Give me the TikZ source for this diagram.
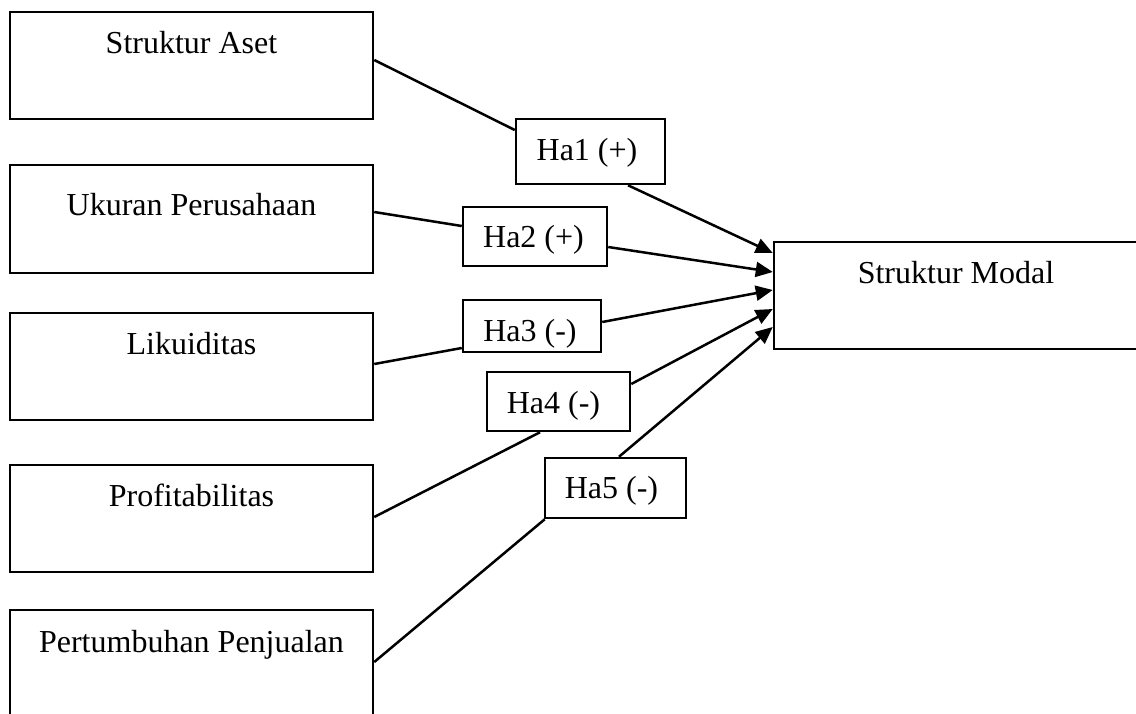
\documentclass[tikz,border=0pt]{standalone}
\usepackage{fontspec}
\setmainfont{Liberation Serif}
\usetikzlibrary{arrows.meta}
\tikzset{
  bigbox/.style={draw, line width=2.5pt, minimum width=363pt, minimum height=107pt, inner sep=0pt},
  habox/.style={draw, line width=2.5pt, inner sep=0pt, fill=white},
  txt/.style={anchor=base, inner sep=0pt, font=\fontsize{32}{38}\selectfont},
  conn/.style={line width=2.5pt},
  arr/.style={line width=2.5pt, -{Triangle[length=17pt,width=15pt]}}
}
\begin{document}
\begin{tikzpicture}[x=1pt,y=-1pt]
\useasboundingbox (0,0) rectangle (1136,713);
% left boxes
\node[bigbox] (b1) at (191.5,65.5) {};
\node[txt] (t1) at (191.5,53) {Struktur Aset};
\node[bigbox, minimum height=108pt] (b2) at (191.5,219) {};
\node[txt] (t2) at (191.5,215) {Ukuran Perusahaan};
\node[bigbox] (b3) at (191.5,366.5) {};
\node[txt] (t3) at (191.5,354) {Likuiditas};
\node[bigbox] (b4) at (191.5,518.5) {};
\node[txt] (t4) at (191.5,506) {Profitabilitas};
\node[bigbox] (b5) at (191.5,663.5) {};
\node[txt] (t5) at (191.5,652) {Pertumbuhan Penjualan};
% right box
\node[bigbox] (sm) at (955.5,295.5) {};
\node[txt] (tsm) at (956,283) {Struktur Modal};
% hypothesis boxes
\node[habox, minimum width=149pt, minimum height=65pt] (h1) at (590.5,151.5) {};
\node[txt] (th1) at (587,160) {Ha1 (+)};
\node[habox, minimum width=144pt, minimum height=59pt] (h2) at (535,236.5) {};
\node[txt] (th2) at (533.5,247) {Ha2 (+)};
\node[habox, minimum width=138pt, minimum height=52pt] (h3) at (532,326) {};
\node[txt] (th3) at (530,341) {Ha3 (-)};
\node[habox, minimum width=143pt, minimum height=59pt] (h4) at (558.5,401.5) {};
\node[txt] (th4) at (553.5,413) {Ha4 (-)};
\node[habox, minimum width=141pt, minimum height=60pt] (h5) at (615.5,488) {};
\node[txt] (th5) at (611.5,498) {Ha5 (-)};
% connectors
\draw[conn] ([yshift=5.5pt]b1.east) -- ([yshift=21.5pt]h1.west);
\draw[arr] ([xshift=37.5pt]h1.south) -- ([yshift=42.5pt]sm.west);
\draw[conn] ([yshift=7pt]b2.east) -- ([yshift=10.5pt]h2.west);
\draw[arr] ([yshift=-10.5pt]h2.east) -- ([yshift=23.5pt]sm.west);
\draw[conn] ([yshift=2.5pt]b3.east) -- ([yshift=-22pt]h3.west);
\draw[arr] ([yshift=4pt]h3.east) -- ([yshift=5.5pt]sm.west);
\draw[conn] ([yshift=1.5pt]b4.east) -- ([xshift=-18.5pt]h4.south);
\draw[arr] ([yshift=17.5pt]h4.east) -- ([yshift=-13.5pt]sm.west);
\draw[conn] ([yshift=1.5pt]b5.east) -- ([xshift=1pt]h5.south west);
\draw[arr] ([xshift=3.5pt]h5.north) -- ([yshift=-31.5pt]sm.west);
\end{tikzpicture}
\end{document}
